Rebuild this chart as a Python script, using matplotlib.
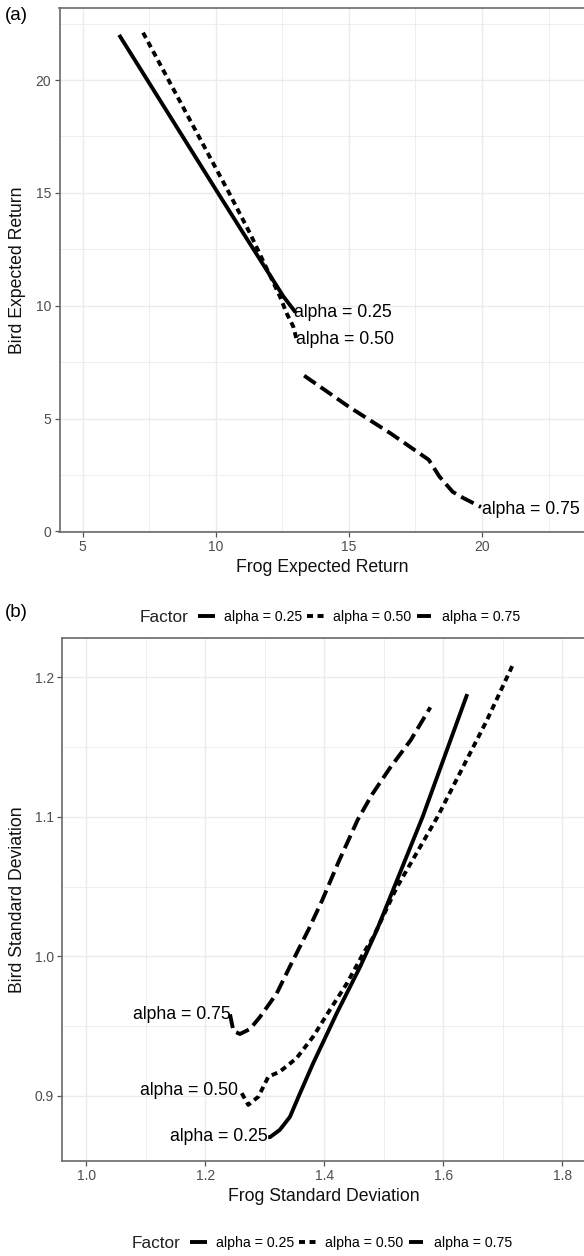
import matplotlib
matplotlib.use("Agg")
import matplotlib.pyplot as plt
from matplotlib.lines import Line2D
from matplotlib.ticker import MultipleLocator

plt.rcParams['font.family'] = ['Liberation Sans', 'DejaVu Sans']

# ---------------- data: panel (a) expected returns ----------------
a_x_025 = [6.37, 10.08, 11.03, 12.54, 13.0]
a_y_025 = [22.0, 15.0, 13.22, 10.41, 9.70]
a_x_050 = [7.27, 10.5, 11.28, 12.41, 12.66, 12.91, 13.04]
a_y_050 = [22.1, 15.0, 13.22, 10.41, 9.67, 9.08, 8.49]
a_x_075 = [13.32, 15.0, 16.58, 18.0, 18.4, 18.9, 19.31, 19.96]
a_y_075 = [6.9, 5.52, 4.33, 3.17, 2.43, 1.75, 1.47, 1.08]
a_lab_x = [12.95, 13.02, 20.01]
a_lab_y = [9.70, 8.49, 0.95]

# ---------------- data: panel (b) standard deviations ----------------
b_x_025 = [1.3055, 1.3086, 1.325, 1.342, 1.357, 1.381, 1.4206, 1.46, 1.488, 1.565, 1.640]
b_y_025 = [0.8705, 0.8705, 0.8757, 0.885, 0.900, 0.9234, 0.9592, 0.9926, 1.0188, 1.100, 1.188]
b_x_050 = [1.261, 1.272, 1.289, 1.3057, 1.325, 1.353, 1.381, 1.409, 1.4375, 1.465, 1.482,
           1.521, 1.590, 1.6728, 1.7175]
b_y_050 = [0.902, 0.8936, 0.8995, 0.9138, 0.9174, 0.927, 0.9425, 0.9616, 0.9805, 1.0019, 1.0138,
           1.049, 1.100, 1.169, 1.2098]
b_x_075 = [1.2413, 1.247, 1.258, 1.275, 1.292, 1.3198, 1.342, 1.373, 1.396, 1.424, 1.456,
           1.48, 1.51, 1.545, 1.578]
b_y_075 = [0.9585, 0.9466, 0.9444, 0.948, 0.9568, 0.9735, 0.9928, 1.019, 1.040, 1.068, 1.098,
           1.116, 1.135, 1.155, 1.1785]
b_lab_x = [1.3055, 1.2555, 1.243]
b_lab_y = [0.8707, 0.9038, 0.9585]

labels = ['alpha = 0.25', 'alpha = 0.50', 'alpha = 0.75']

# ---------------- styles ----------------
LW = 2.8
styles = ['-', (0, (1.55, 1.15)), (0, (3.6, 1.55))]
GRID = '#EBEBEB'
TICKC = '#4D4D4D'
W, H = 584, 1256

fig = plt.figure(figsize=(W / 100, H / 100), dpi=100)


def px_axes(left, top, right, bottom):
    return fig.add_axes([left / W, 1 - bottom / H, (right - left) / W, (bottom - top) / H])


def style_axes(ax, xmaj, xmin, ymaj, ymin):
    ax.xaxis.set_major_locator(MultipleLocator(xmaj))
    ax.xaxis.set_minor_locator(MultipleLocator(xmin))
    ax.yaxis.set_major_locator(MultipleLocator(ymaj))
    ax.yaxis.set_minor_locator(MultipleLocator(ymin))
    ax.grid(True, which='major', color=GRID, lw=1.0, zorder=0)
    ax.grid(True, which='minor', color=GRID, lw=0.6, zorder=0)
    ax.set_axisbelow(True)
    for s in ['left', 'bottom', 'top']:
        ax.spines[s].set_color('#6a6a6a')
        ax.spines[s].set_linewidth(1.2)
    ax.spines['right'].set_visible(False)
    ax.tick_params(which='major', length=3.5, width=0.9, color='#555555',
                   labelsize=10, labelcolor=TICKC, pad=2.5)
    ax.tick_params(which='minor', length=0)


def add_legend(xfac, xleg, ycen):
    yf = 1 - ycen / H
    fig.text(xfac / W, yf, 'Factor', fontsize=12.4, ha='left', va='center', color='#222222')
    handles = [Line2D([], [], color='black', lw=LW, linestyle=s,
                      solid_capstyle='butt', dash_capstyle='butt') for s in styles]
    fig.legend(handles, labels, loc='center left', bbox_to_anchor=(xleg / W, yf),
               ncol=3, frameon=False, fontsize=10.2, handlelength=1.2,
               handletextpad=0.6, columnspacing=0.4, borderpad=0, borderaxespad=0)


# ---------------- panel (a) ----------------
axa = px_axes(59.5, 8.3, 585, 532)
series_a = [(a_x_025, a_y_025), (a_x_050, a_y_050), (a_x_075, a_y_075)]
for (xs, ys), ls in zip(series_a, styles):
    axa.plot(xs, ys, color='black', lw=LW, linestyle=ls,
             solid_capstyle='butt', dash_capstyle='butt', solid_joinstyle='round')
for lx, ly, lab in zip(a_lab_x, a_lab_y, labels):
    axa.text(lx, ly, lab, ha='left', va='center', fontsize=12.7, color='black')
axa.set_xlim(4.13, 23.87)
axa.set_ylim(-0.03, 23.18)
style_axes(axa, 5, 2.5, 5, 2.5)
fig.text(322 / W, 1 - 568 / H, 'Frog Expected Return', fontsize=12.7,
         ha='center', va='center', color='#111111')
fig.text(17.5 / W, 1 - 270 / H, 'Bird Expected Return', fontsize=12.7, rotation=90,
         ha='center', va='center', color='#111111')
fig.text(5 / W, 1 - 15 / H, '(a)', fontsize=13.5, ha='left', va='center')
add_legend(140, 198, 617)

# ---------------- panel (b) ----------------
axb = px_axes(62.2, 638, 586, 1161)
series_b = [(b_x_025, b_y_025), (b_x_050, b_y_050), (b_x_075, b_y_075)]
for (xs, ys), ls in zip(series_b, styles):
    axb.plot(xs, ys, color='black', lw=LW, linestyle=ls,
             solid_capstyle='butt', dash_capstyle='butt', solid_joinstyle='round')
for lx, ly, lab in zip(b_lab_x, b_lab_y, labels):
    axb.text(lx, ly, lab, ha='right', va='center', fontsize=12.7, color='black')
axb.set_xlim(0.9593, 1.8396)
axb.set_ylim(0.8534, 1.2282)
style_axes(axb, 0.2, 0.1, 0.1, 0.05)
axb.xaxis.set_major_formatter(matplotlib.ticker.FormatStrFormatter('%.1f'))
axb.yaxis.set_major_formatter(matplotlib.ticker.FormatStrFormatter('%.1f'))
fig.text(324 / W, 1 - 1196.7 / H, 'Frog Standard Deviation', fontsize=12.7,
         ha='center', va='center', color='#111111')
fig.text(17.5 / W, 1 - 899.5 / H, 'Bird Standard Deviation', fontsize=12.7, rotation=90,
         ha='center', va='center', color='#111111')
fig.text(5 / W, 1 - 613 / H, '(b)', fontsize=13.5, ha='left', va='center')
add_legend(131.7, 190, 1243)

fig.savefig('out.png', dpi=100)
